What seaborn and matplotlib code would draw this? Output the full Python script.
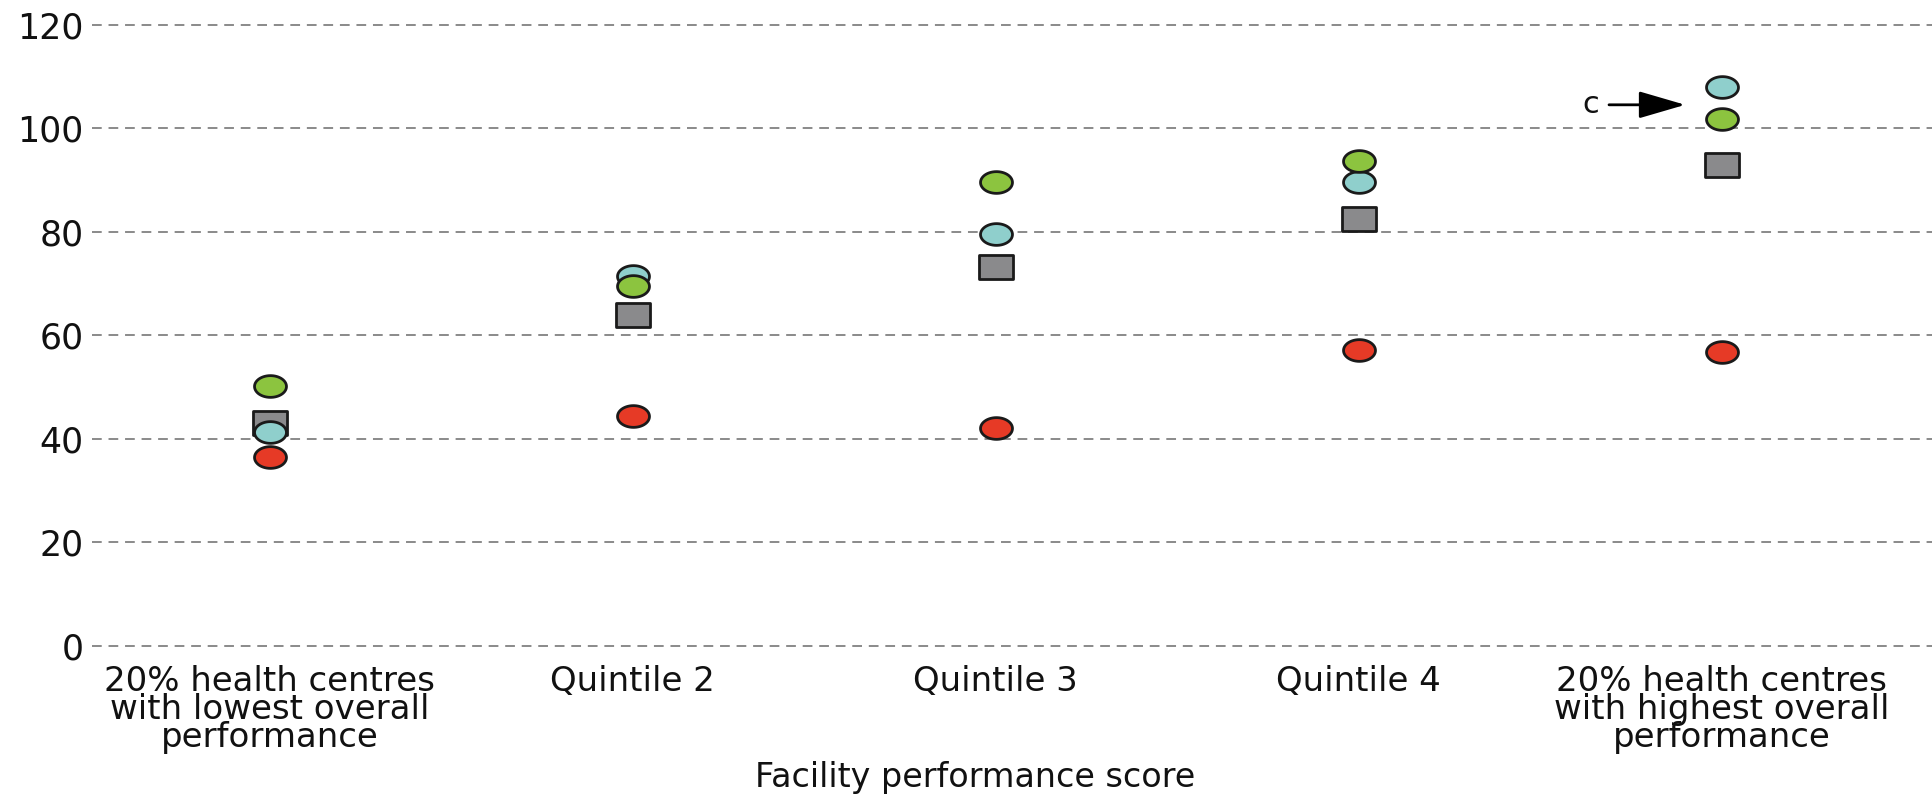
import numpy as np
import pandas as pd
import matplotlib
matplotlib.use("Agg")
import matplotlib.pyplot as plt
from matplotlib.path import Path
import seaborn as sns

categories = ["20% health centres\nwith lowest overall\nperformance", "Quintile 2", "Quintile 3",
              "Quintile 4", "20% health centres\nwith highest overall\nperformance"]
gray_sq = [43.0, 63.8, 73.1, 82.4, 92.9]
cyan = [41.2, 71.4, 79.5, 89.5, 107.9]
green = [50.2, 69.5, 89.5, 93.6, 101.7]
red = [36.4, 44.3, 42.1, 57.1, 56.7]

sns.set_theme(style="white")
plt.rcParams['font.family'] = ['DejaVu Sans']

# elliptical and flat rectangle markers (the picture is stretched sideways)
t = np.linspace(0, 2 * np.pi, 60)
ellipse = Path(np.column_stack([np.cos(t), 0.68 * np.sin(t)]), closed=True)
rect = Path([(-1, -0.7), (1, -0.7), (1, 0.7), (-1, 0.7), (-1, -0.7)], closed=True)

fig = plt.figure(figsize=(19.32, 7.96), dpi=100)
ax = fig.add_axes([92 / 1932, 1 - 645.6 / 796, 1 - 92 / 1932, (645.6 - 24.6) / 796])

series = [
    (gray_sq, "#8a8a8c", rect, 600),
    (cyan, "#8fcfcc", ellipse, 529),
    (green, "#8cc43f", ellipse, 529),
    (red, "#e63a26", ellipse, 529),
]
xs = np.arange(len(categories))
for vals, col, mk, size in series:
    df = pd.DataFrame({"x": xs, "y": vals})
    sns.scatterplot(data=df, x="x", y="y", marker=mk, s=size, color=col,
                    edgecolor="#1a1a1a", linewidth=2.0, ax=ax, zorder=3)

ax.set_xlim(-0.49, 4.58)
ax.set_ylim(0, 120)
ax.set_yticks(range(0, 121, 20))
ax.set_xticks(xs)
ax.set_xticklabels(categories, fontsize=24.5, linespacing=0.8, color="#111111")
ax.tick_params(axis="y", labelsize=25, colors="#111111", length=0, pad=6)
ax.tick_params(axis="x", length=0, pad=14)
ax.grid(axis="y", color="#8a8a8a", linestyle=(0, (5, 3.5)), linewidth=1.4)
for gl in ax.get_ygridlines():
    gl.set_clip_on(False)
ax.set_axisbelow(True)
for sp in ax.spines.values():
    sp.set_visible(False)
ax.set_xlabel("Facility performance score", fontsize=24, color="#111111")
ax.xaxis.label.set_va("center")
ax.xaxis.set_label_coords(0.48, -0.213)
ax.set_ylabel("")

ax.annotate("", xy=(3.90, 104.5), xytext=(3.69, 104.5),
            arrowprops=dict(arrowstyle="-|>,head_length=2.4,head_width=0.7", color="black", lw=2.0,
                            shrinkA=0, shrinkB=0))
ax.text(3.64, 104.5, "c", fontsize=22, ha="center", va="center", color="#111111")

fig.savefig("out.png", dpi=100)
